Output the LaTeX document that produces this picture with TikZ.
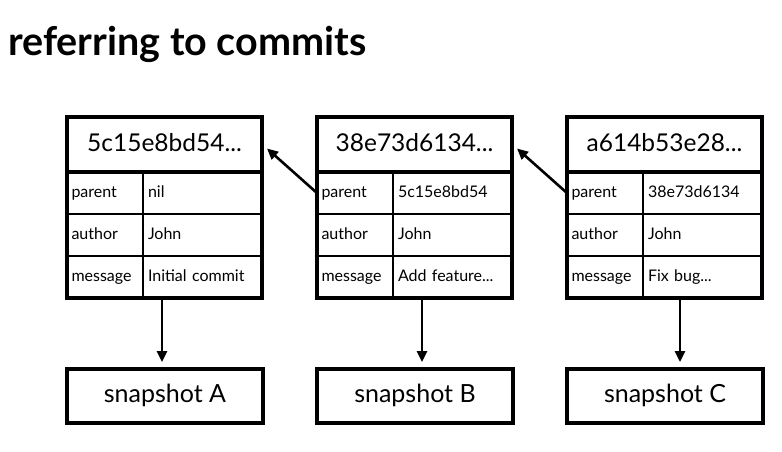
\documentclass[tikz,border=0pt]{standalone}
\usepackage{fontspec}
\setmainfont{Lato}
\usetikzlibrary{arrows.meta,calc}
\newcommand{\dotsx}{...}
\tikzset{
  box/.style={draw, line width=3.2pt, outer sep=0pt, inner sep=0pt},
  hdr/.style={box, minimum width=195pt, minimum height=55pt, anchor=north west, text height=18pt, text depth=5pt, font=\fontsize{24.5}{28}\selectfont},
  kcell/.style={box, line width=2.8pt, minimum width=76pt, minimum height=42pt, anchor=north west, text width=67pt, text height=12pt, text depth=4pt, align=left, font=\fontsize{16}{19}\selectfont},
  vcell/.style={box, line width=2.8pt, minimum width=119pt, minimum height=42pt, anchor=north west, text width=109pt, text height=12pt, text depth=4pt, align=left, font=\fontsize{16}{19}\selectfont},
  snap/.style={box, minimum width=196pt, minimum height=54pt, anchor=north west, text height=18pt, text depth=5pt, font=\fontsize{25}{28}\selectfont},
  arr/.style={line width=2.6pt, -{Triangle[length=11pt,width=10pt]}},
}
\begin{document}
\begin{tikzpicture}[x=1pt,y=-1pt]
\useasboundingbox (0,0) rectangle (782,451);
\node[anchor=base west, inner sep=0pt, font=\fontsize{39.5}{44}\selectfont\bfseries] (title) at (8,55) {referring to commits};
\foreach \i/\x/\h/\p/\m in {1/67/5c15e8bd54\dotsx/nil/Initial commit, 2/317/38e73d6134\dotsx/5c15e8bd54/Add feature\dotsx, 3/567/a614b53e28\dotsx/38e73d6134/Fix bug\dotsx}{
  \node[hdr] (h\i) at (\x,117) {\h};
  \node[kcell] (pk\i) at (\x,172) {parent};
  \node[vcell] (pv\i) at (\x+76,172) {\p};
  \node[kcell] (ak\i) at (\x,214) {author};
  \node[vcell] (av\i) at (\x+76,214) {John};
  \node[kcell] (mk\i) at (\x,256) {message};
  \node[vcell] (mv\i) at (\x+76,256) {\m};
}
\draw[line width=3.2pt] (pk1.north west) rectangle (mv1.south east);
\draw[line width=3.2pt] (pk2.north west) rectangle (mv2.south east);
\draw[line width=3.2pt] (pk3.north west) rectangle (mv3.south east);
\node[snap] (s1) at (67,369) {snapshot A};
\node[snap] (s2) at (317,369) {snapshot B};
\node[snap] (s3) at (567,369) {snapshot C};
% commit -> snapshot
\draw[arr] ([xshift=-3pt]s1.north |- mk1.south) -- ([xshift=-3pt,yshift=7pt]s1.north);
\draw[arr] ([xshift=7pt]s2.north |- mk2.south) -- ([xshift=7pt,yshift=7pt]s2.north);
\draw[arr] ([xshift=15pt]s3.north |- mk3.south) -- ([xshift=15pt,yshift=7pt]s3.north);
% parent links
\draw[arr] (pk2.west) -- ($(h1.east)+(5,4)$);
\draw[arr] (pk3.west) -- ($(h2.east)+(5,4)$);
\end{tikzpicture}
\end{document}
